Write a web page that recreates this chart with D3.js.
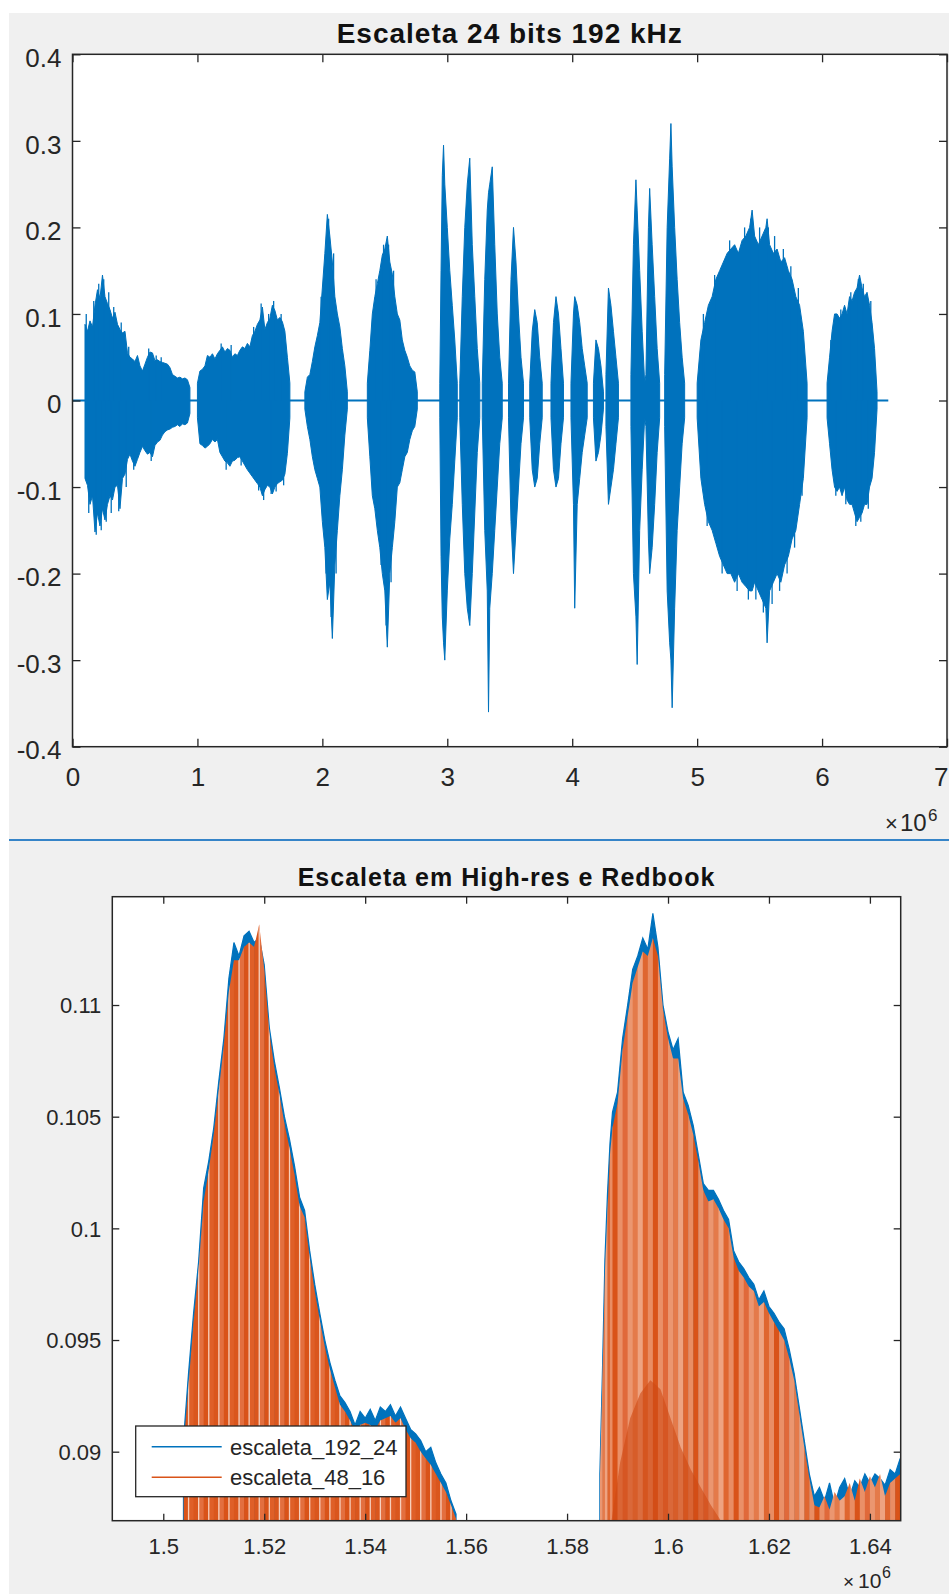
<!DOCTYPE html>
<html><head><meta charset="utf-8">
<script src="https://cdn.jsdelivr.net/npm/d3@7"></script>
<style>
html,body{margin:0;padding:0;background:#fff;}
svg{display:block;}
</style></head><body>
<svg id="fig" width="949" height="1594"></svg>
<script>
// ---------------- DATA ----------------
const topTitle = "Escaleta 24 bits 192 kHz";
const zoomTitle = "Escaleta em High-res e Redbook";
const seriesNames = ["escaleta_192_24", "escaleta_48_16"];

const topXTicks = [0, 1, 2, 3, 4, 5, 6, 7];
const topXLabels = ["0", "1", "2", "3", "4", "5", "6", "7"];
const topYTicks = [-0.4, -0.3, -0.2, -0.1, 0, 0.1, 0.2, 0.3, 0.4];
const topYLabels = ["-0.4", "-0.3", "-0.2", "-0.1", "0", "0.1", "0.2", "0.3", "0.4"];
const zoomXTicks = [1.5, 1.52, 1.54, 1.56, 1.58, 1.6, 1.62, 1.64];
const zoomXLabels = ["1.5", "1.52", "1.54", "1.56", "1.58", "1.6", "1.62", "1.64"];
const zoomYTicks = [0.09, 0.095, 0.1, 0.105, 0.11];
const zoomYLabels = ["0.09", "0.095", "0.1", "0.105", "0.11"];

// waveform envelope of escaleta_192_24 (x in 1e6 samples): [x, max, min]
const waveBaseline = [0, 6.53];
const waveA = [
 [0.10,0.088,-0.090],[0.12,0.080,-0.098],[0.14,0.092,-0.120],[0.16,0.085,-0.110],[0.18,0.110,-0.152],
 [0.20,0.128,-0.130],[0.22,0.118,-0.145],[0.24,0.145,-0.125],[0.26,0.120,-0.138],[0.28,0.112,-0.120],
 [0.30,0.105,-0.110],[0.32,0.095,-0.115],[0.34,0.102,-0.100],[0.36,0.088,-0.098],[0.38,0.082,-0.125],
 [0.40,0.078,-0.090],[0.42,0.080,-0.085],[0.44,0.055,-0.068],[0.46,0.050,-0.062],[0.48,0.048,-0.070],
 [0.50,0.045,-0.076],[0.52,0.052,-0.068],[0.54,0.040,-0.060],[0.56,0.034,-0.053],[0.58,0.042,-0.058],
 [0.60,0.050,-0.062],[0.62,0.056,-0.060],[0.64,0.055,-0.065],[0.66,0.046,-0.052],[0.68,0.047,-0.048],
 [0.70,0.045,-0.046],[0.72,0.044,-0.040],[0.74,0.043,-0.036],[0.76,0.042,-0.034],[0.78,0.038,-0.033],
 [0.80,0.030,-0.031],[0.82,0.028,-0.030],[0.84,0.026,-0.028],[0.86,0.027,-0.030],[0.88,0.025,-0.027],
 [0.90,0.026,-0.028],[0.92,0.024,-0.026],[0.94,0.015,-0.015]
];
const waveB = [
 [1.00,0.020,-0.020],[1.02,0.034,-0.050],[1.04,0.036,-0.052],[1.06,0.040,-0.055],[1.08,0.052,-0.053],
 [1.10,0.050,-0.050],[1.12,0.054,-0.045],[1.14,0.048,-0.048],[1.16,0.054,-0.045],[1.18,0.058,-0.060],
 [1.20,0.062,-0.065],[1.22,0.056,-0.070],[1.24,0.060,-0.072],[1.26,0.058,-0.076],[1.28,0.050,-0.070],
 [1.30,0.054,-0.069],[1.32,0.052,-0.066],[1.34,0.058,-0.065],[1.36,0.062,-0.070],[1.38,0.060,-0.075],
 [1.40,0.066,-0.080],[1.42,0.062,-0.084],[1.44,0.075,-0.088],[1.46,0.080,-0.092],[1.48,0.088,-0.096],
 [1.50,0.093,-0.100],[1.52,0.108,-0.110],[1.54,0.082,-0.103],[1.56,0.090,-0.098],[1.58,0.095,-0.100],
 [1.60,0.110,-0.108],[1.62,0.104,-0.100],[1.64,0.093,-0.096],[1.66,0.096,-0.094],[1.68,0.091,-0.092],
 [1.70,0.080,-0.085],[1.72,0.050,-0.061],[1.74,0.020,-0.020]
];
const waveC = [
 [1.86,0.010,-0.010],[1.88,0.027,-0.030],[1.90,0.030,-0.045],[1.92,0.045,-0.065],[1.94,0.062,-0.080],
 [1.96,0.075,-0.090],[1.98,0.090,-0.100],[2.00,0.130,-0.140],[2.02,0.170,-0.170],[2.04,0.215,-0.230],
 [2.06,0.190,-0.210],[2.08,0.160,-0.275],[2.10,0.120,-0.190],[2.12,0.100,-0.150],[2.14,0.085,-0.110],
 [2.16,0.060,-0.080],[2.18,0.040,-0.040],[2.20,0.010,-0.010]
];
const waveD = [
 [2.36,0.020,-0.020],[2.38,0.058,-0.065],[2.40,0.100,-0.110],[2.42,0.120,-0.125],[2.44,0.135,-0.150],
 [2.46,0.150,-0.170],[2.48,0.168,-0.200],[2.50,0.175,-0.220],[2.52,0.190,-0.285],[2.54,0.160,-0.200],
 [2.56,0.146,-0.170],[2.58,0.120,-0.140],[2.60,0.100,-0.100],[2.62,0.093,-0.095],[2.64,0.070,-0.080],
 [2.66,0.058,-0.065],[2.68,0.050,-0.060],[2.70,0.040,-0.045],[2.72,0.035,-0.035],[2.74,0.033,-0.030],
 [2.76,0.010,-0.010]
];
const waveBursts = [
 [[2.94,0.02,-0.02],[2.95,0.15,-0.18],[2.96,0.26,-0.25],[2.97,0.295,-0.28],[2.98,0.25,-0.30],[3.00,0.20,-0.22],[3.02,0.15,-0.16],[3.04,0.11,-0.12],[3.06,0.07,-0.07],[3.08,0.02,-0.02]],
 [[3.10,0.02,-0.02],[3.12,0.12,-0.12],[3.14,0.20,-0.20],[3.16,0.25,-0.24],[3.18,0.28,-0.26],[3.20,0.18,-0.20],[3.22,0.12,-0.13],[3.24,0.06,-0.06],[3.26,0.02,-0.02]],
 [[3.28,0.02,-0.02],[3.30,0.14,-0.15],[3.32,0.22,-0.22],[3.33,0.24,-0.36],[3.34,0.25,-0.24],[3.36,0.27,-0.20],[3.38,0.18,-0.15],[3.40,0.10,-0.10],[3.42,0.05,-0.05],[3.44,0.02,-0.02]],
 [[3.49,0.02,-0.02],[3.51,0.14,-0.14],[3.53,0.20,-0.20],[3.55,0.16,-0.15],[3.57,0.10,-0.10],[3.59,0.05,-0.05],[3.61,0.02,-0.02]],
 [[3.66,0.02,-0.02],[3.68,0.08,-0.08],[3.70,0.105,-0.10],[3.72,0.09,-0.09],[3.74,0.05,-0.05],[3.76,0.02,-0.02]],
 [[3.83,0.02,-0.02],[3.85,0.09,-0.08],[3.87,0.12,-0.10],[3.89,0.10,-0.09],[3.91,0.06,-0.05],[3.93,0.02,-0.02]],
 [[3.99,0.02,-0.02],[4.01,0.10,-0.12],[4.02,0.12,-0.24],[4.04,0.11,-0.12],[4.06,0.09,-0.09],[4.08,0.06,-0.06],[4.10,0.04,-0.04],[4.12,0.02,-0.02]],
 [[4.17,0.02,-0.02],[4.19,0.07,-0.07],[4.21,0.06,-0.06],[4.23,0.04,-0.04],[4.25,0.01,-0.01]],
 [[4.27,0.03,-0.03],[4.29,0.13,-0.12],[4.31,0.11,-0.10],[4.33,0.08,-0.08],[4.35,0.05,-0.05],[4.37,0.02,-0.02]],
 [[4.47,0.03,-0.03],[4.49,0.18,-0.20],[4.51,0.255,-0.25],[4.52,0.22,-0.305],[4.54,0.15,-0.15],[4.56,0.08,-0.08],[4.58,0.02,-0.02],
  [4.59,0.03,-0.03],[4.61,0.20,-0.16],[4.62,0.245,-0.20],[4.64,0.18,-0.17],[4.66,0.12,-0.12],[4.68,0.06,-0.06],[4.70,0.02,-0.02]],
 [[4.74,0.03,-0.03],[4.76,0.20,-0.22],[4.78,0.28,-0.28],[4.79,0.32,-0.30],[4.80,0.27,-0.355],[4.82,0.20,-0.24],[4.84,0.14,-0.15],[4.86,0.09,-0.10],[4.88,0.05,-0.05],[4.90,0.02,-0.02]]
];
const waveF = [
 [5.00,0.02,-0.02],[5.03,0.07,-0.09],[5.06,0.09,-0.12],[5.09,0.11,-0.14],[5.12,0.12,-0.15],
 [5.15,0.14,-0.165],[5.18,0.15,-0.18],[5.21,0.16,-0.19],[5.24,0.17,-0.20],[5.27,0.175,-0.20],
 [5.30,0.18,-0.21],[5.33,0.17,-0.20],[5.36,0.185,-0.21],[5.39,0.19,-0.215],[5.42,0.20,-0.22],
 [5.44,0.22,-0.22],[5.46,0.19,-0.21],[5.49,0.18,-0.22],[5.52,0.19,-0.23],[5.55,0.20,-0.24],
 [5.56,0.21,-0.28],[5.58,0.18,-0.22],[5.61,0.17,-0.21],[5.64,0.175,-0.20],[5.67,0.16,-0.21],
 [5.70,0.165,-0.19],[5.73,0.15,-0.18],[5.76,0.14,-0.16],[5.79,0.12,-0.15],[5.82,0.11,-0.12],
 [5.85,0.08,-0.09],[5.88,0.02,-0.02]
];
const waveG = [
 [6.04,0.02,-0.02],[6.06,0.05,-0.05],[6.08,0.08,-0.08],[6.10,0.10,-0.10],[6.12,0.10,-0.105],
 [6.14,0.095,-0.10],[6.16,0.10,-0.11],[6.18,0.11,-0.10],[6.20,0.10,-0.115],[6.22,0.12,-0.12],
 [6.24,0.115,-0.12],[6.26,0.125,-0.13],[6.28,0.13,-0.14],[6.30,0.145,-0.135],[6.32,0.13,-0.13],
 [6.34,0.12,-0.12],[6.36,0.125,-0.12],[6.38,0.11,-0.10],[6.40,0.09,-0.09],[6.42,0.06,-0.06],
 [6.44,0.01,-0.01]
];
// isolated needle peaks on the envelope edges: [x, peak]
const waveSpikes = [
 [0.11,0.100],[0.13,-0.130],[0.17,0.115],[0.19,-0.155],[0.21,0.135],[0.23,-0.150],[0.25,0.140],[0.27,-0.140],
 [0.29,0.125],[0.31,-0.130],[0.33,0.108],[0.37,-0.128],[0.39,0.090],[0.43,-0.100],[0.45,0.062],[0.49,-0.080],
 [0.61,0.060],[0.63,-0.070],[0.67,0.052],[0.71,0.050],
 [1.19,0.066],[1.23,-0.080],[1.27,0.064],[1.35,-0.075],[1.45,0.085],[1.49,-0.104],[1.51,0.112],[1.53,-0.115],
 [1.57,0.100],[1.59,-0.108],[1.61,0.115],[1.63,-0.105],[1.67,0.100],[1.69,-0.098],
 [1.99,0.120],[2.03,-0.200],[2.05,0.210],[2.07,-0.250],[2.09,0.170],[2.11,-0.200],
 [2.43,0.140],[2.47,-0.190],[2.49,0.180],[2.51,-0.260],[2.53,0.180],[2.55,-0.210],[2.57,0.150],
 [5.05,0.100],[5.08,-0.145],[5.14,0.145],[5.20,-0.200],[5.26,0.185],[5.32,-0.220],[5.38,0.200],[5.41,-0.230],
 [5.43,0.210],[5.47,-0.230],[5.50,0.200],[5.53,-0.245],[5.57,0.200],[5.60,-0.235],[5.62,0.190],[5.66,-0.220],
 [5.69,0.175],[5.72,-0.200],[5.75,0.155],[5.78,-0.170],[5.81,0.130],[5.84,-0.110],
 [6.07,0.070],[6.11,-0.110],[6.15,0.105],[6.19,-0.120],[6.23,0.125],[6.27,-0.145],[6.29,0.140],[6.31,-0.140],
 [6.33,0.135],[6.37,-0.125],[6.39,0.115]
];

// zoomed view: peak values per 1000 samples, [x (1e6), escaleta_192_24, escaleta_48_16]
const leftHump = [
 [1.504,0.0905,0.0902],[1.505,0.0935,0.0930],[1.506,0.0962,0.0958],[1.507,0.0985,0.0982],
 [1.508,0.1018,0.1012],[1.509,0.1030,0.1026],[1.510,0.1045,0.1042],[1.511,0.1066,0.1062],
 [1.512,0.1085,0.1082],[1.513,0.1112,0.1106],[1.514,0.1128,0.1120],[1.515,0.1122,0.1120],
 [1.516,0.1131,0.1126],[1.517,0.1133,0.1128],[1.518,0.1128,0.1126],[1.519,0.1130,0.1136],
 [1.520,0.1118,0.1116],[1.521,0.1090,0.1088],[1.522,0.1075,0.1072],[1.523,0.1063,0.1060],
 [1.524,0.1050,0.1047],[1.525,0.1040,0.1036],[1.526,0.1028,0.1024],[1.527,0.1014,0.1010],
 [1.528,0.1008,0.1005],[1.529,0.0990,0.0987],[1.530,0.0975,0.0972],[1.531,0.0962,0.0959],
 [1.532,0.0950,0.0947],[1.533,0.0940,0.0937],[1.534,0.0932,0.0929],[1.535,0.0925,0.0921],
 [1.536,0.0922,0.0918],[1.537,0.0918,0.0914],[1.538,0.0912,0.0909],[1.539,0.0918,0.0912],
 [1.540,0.0915,0.0913],[1.541,0.0919,0.0912],[1.542,0.0914,0.0910],[1.543,0.0920,0.0914],
 [1.544,0.0918,0.0915],[1.545,0.0921,0.0916],[1.546,0.0916,0.0913],[1.547,0.0920,0.0915],
 [1.548,0.0915,0.0910],[1.549,0.0910,0.0906],[1.550,0.0908,0.0904],[1.551,0.0905,0.0900],
 [1.552,0.0900,0.0897],[1.553,0.0902,0.0894],[1.554,0.0895,0.0890],[1.555,0.0890,0.0886],
 [1.556,0.0886,0.0882],[1.557,0.0878,0.0876],[1.558,0.0872,0.0870]
];
const rightHump = [
 [1.5865,0.0890,0.0888],[1.5870,0.0935,0.0932],[1.5875,0.0986,0.0980],[1.5880,0.1015,0.1008],
 [1.5885,0.1038,0.1033],[1.5890,0.1052,0.1045],[1.5900,0.1061,0.1056],[1.5910,0.1085,0.1080],
 [1.5920,0.1100,0.1095],[1.5930,0.1116,0.1110],[1.5940,0.1122,0.1117],[1.5950,0.1130,0.1124],
 [1.5960,0.1125,0.1122],[1.5970,0.1141,0.1130],[1.5980,0.1126,0.1122],[1.5990,0.1100,0.1098],
 [1.6000,0.1088,0.1085],[1.6010,0.1080,0.1076],[1.6020,0.1085,0.1076],[1.6030,0.1061,0.1058],
 [1.6040,0.1055,0.1051],[1.6050,0.1046,0.1042],[1.6060,0.1033,0.1030],[1.6070,0.1020,0.1017],
 [1.6080,0.1017,0.1012],[1.6090,0.1017,0.1013],[1.6100,0.1013,0.1009],[1.6110,0.1008,0.1004],
 [1.6120,0.1004,0.1000],[1.6130,0.0990,0.0987],[1.6140,0.0985,0.0981],[1.6150,0.0982,0.0978],
 [1.6160,0.0978,0.0974],[1.6170,0.0975,0.0972],[1.6180,0.0968,0.0965],[1.6190,0.0972,0.0967],
 [1.6200,0.0965,0.0962],[1.6210,0.0962,0.0958],[1.6220,0.0958,0.0954],[1.6230,0.0955,0.0950],
 [1.6240,0.0946,0.0942],[1.6250,0.0935,0.0932],[1.6260,0.0920,0.0917],[1.6270,0.0905,0.0902],
 [1.6280,0.0890,0.0888],[1.6290,0.0880,0.0876],[1.6300,0.0884,0.0875],[1.6310,0.0878,0.0880],
 [1.6320,0.0886,0.0874],[1.6330,0.0876,0.0882],[1.6340,0.0884,0.0878],[1.6350,0.0888,0.0880],
 [1.6360,0.0880,0.0886],[1.6370,0.0887,0.0878],[1.6380,0.0884,0.0888],[1.6390,0.0890,0.0882],
 [1.6400,0.0886,0.0889],[1.6410,0.0890,0.0884],[1.6420,0.0888,0.0890],[1.6430,0.0885,0.0880],
 [1.6440,0.0892,0.0886],[1.6450,0.0890,0.0888],[1.6460,0.0897,0.0890]
];
// denser (darker) core of escaleta_48_16 inside the right hump: [x, top]
const rightCore = [
 [1.5888,0.0869],[1.5905,0.0895],[1.5925,0.0915],[1.5945,0.0926],[1.5965,0.0932],[1.5985,0.0928],
 [1.6005,0.0915],[1.6025,0.0902],[1.6045,0.0892],[1.6065,0.0884],[1.6085,0.0876],[1.6105,0.0869]
];

// ---------------- DRAWING ----------------
const BLUE = "#0072BD", ORANGE = "#D95319", AXC = "#262626";
const FONT = "'Liberation Sans', Arial, Helvetica, sans-serif";
const svg = d3.select("#fig");

svg.append("rect").attr("x", 9).attr("y", 13).attr("width", 940).attr("height", 1581).attr("fill", "#f0f0f0");
svg.append("rect").attr("x", 9).attr("y", 839).attr("width", 940).attr("height", 2).attr("fill", "#3584c8");

function styleAxis(g, fs, dy) {
  g.select(".domain").remove();
  g.attr("font-family", FONT).attr("font-size", fs);
  g.selectAll(".tick line").attr("stroke", AXC).attr("stroke-width", 1.3);
  g.selectAll(".tick text").attr("fill", AXC).attr("font-size", fs).attr("font-family", FONT);
  if (dy) g.selectAll(".tick text").attr("dy", dy);
}

// ---- top panel ----
const T = { l: 72.5, r: 947, t: 54.3, b: 746.7 };
const tx = d3.scaleLinear().domain([0, 7]).range([T.l, T.r]);
const ty = d3.scaleLinear().domain([-0.4, 0.4]).range([T.b, T.t]);
const gTop = svg.append("g");
gTop.append("rect").attr("x", T.l).attr("y", T.t).attr("width", T.r - T.l).attr("height", T.b - T.t).attr("fill", "#fff");

gTop.append("line")
  .attr("x1", tx(waveBaseline[0])).attr("x2", tx(waveBaseline[1]))
  .attr("y1", ty(0)).attr("y2", ty(0))
  .attr("stroke", BLUE).attr("stroke-width", 2);

const waveArea = d3.area().x(d => tx(d[0])).y0(d => ty(d[2])).y1(d => ty(d[1]));
[waveA, waveB, waveC, waveD, ...waveBursts, waveF, waveG].forEach(seg => {
  gTop.append("path").attr("d", waveArea(seg))
    .attr("fill", BLUE).attr("stroke", BLUE).attr("stroke-width", 1).attr("stroke-linejoin", "miter");
});
gTop.selectAll("line.spike").data(waveSpikes).join("line").attr("class", "spike")
  .attr("x1", d => tx(d[0])).attr("x2", d => tx(d[0]))
  .attr("y1", ty(0)).attr("y2", d => ty(d[1]))
  .attr("stroke", BLUE).attr("stroke-width", 1.3);

gTop.append("g").attr("transform", `translate(0,${T.b})`)
  .call(d3.axisBottom(tx).tickValues(topXTicks).tickFormat((d, i) => topXLabels[i]).tickSize(-8).tickSizeOuter(0).tickPadding(21))
  .call(g => styleAxis(g, 26))
  .call(g => g.selectAll(".tick text").filter(d => d === 7).attr("text-anchor", "end").attr("x", 1));
gTop.append("g").attr("transform", `translate(0,${T.t})`)
  .call(d3.axisTop(tx).tickValues(topXTicks).tickFormat("").tickSize(-8).tickSizeOuter(0))
  .call(g => styleAxis(g, 26));
gTop.append("g").attr("transform", `translate(${T.l},0)`)
  .call(d3.axisLeft(ty).tickValues(topYTicks).tickFormat((d, i) => topYLabels[i]).tickSize(-8).tickSizeOuter(0).tickPadding(11))
  .call(g => styleAxis(g, 26, "0.47em"));
gTop.append("g").attr("transform", `translate(${T.r},0)`)
  .call(d3.axisRight(ty).tickValues(topYTicks).tickFormat("").tickSize(-8).tickSizeOuter(0))
  .call(g => styleAxis(g, 26));
gTop.append("rect").attr("x", T.l).attr("y", T.t).attr("width", T.r - T.l).attr("height", T.b - T.t)
  .attr("fill", "none").attr("stroke", AXC).attr("stroke-width", 1.5);

svg.append("text").attr("x", (T.l + T.r) / 2).attr("y", 43).attr("text-anchor", "middle")
  .attr("font-family", FONT).attr("font-weight", "bold").attr("font-size", 28).attr("letter-spacing", 1)
  .attr("fill", "#111").text(topTitle);
svg.append("text").attr("x", 885).attr("y", 831).attr("font-family", FONT).attr("font-size", 22).attr("fill", AXC).text("×");
svg.append("text").attr("x", 900).attr("y", 831).attr("font-family", FONT).attr("font-size", 24).attr("fill", AXC).text("10");
svg.append("text").attr("x", 928).attr("y", 821).attr("font-family", FONT).attr("font-size", 17).attr("fill", AXC).text("6");

// ---- bottom (zoomed) panel ----
const Z = { l: 112.3, r: 900.7, t: 896.7, b: 1520.7 };
const zx = d3.scaleLinear().domain([1.4899, 1.6461]).range([Z.l, Z.r]);
const zy = d3.scaleLinear().domain([0.08691, 0.11485]).range([Z.b, Z.t]);
const gZ = svg.append("g");
gZ.append("rect").attr("x", Z.l).attr("y", Z.t).attr("width", Z.r - Z.l).attr("height", Z.b - Z.t).attr("fill", "#fff");
const defs = svg.append("defs");
defs.append("clipPath").attr("id", "zclip").append("rect")
  .attr("x", Z.l).attr("y", Z.t).attr("width", Z.r - Z.l).attr("height", Z.b - Z.t);
const gData = gZ.append("g").attr("clip-path", "url(#zclip)");

const leftShades = ["#d95319", "#df5f28", "#da561d", "#e36f3f"];
const rightShades = ["#eb9670", "#e47a4a", "#eea381", "#df6630", "#e98d64", "#d95319", "#ea9068", "#e0693a"];

function drawHump(rows, shades, gapEvery, id) {
  const blueArea = d3.area().x(d => zx(d[0])).y0(Z.b + 2).y1(d => zy(d[1]));
  const orangeArea = d3.area().x(d => zx(d[0])).y0(Z.b + 2).y1(d => zy(d[2]));
  gData.append("path").attr("d", blueArea(rows)).attr("fill", BLUE)
    .attr("stroke", BLUE).attr("stroke-width", 1.2);
  defs.append("clipPath").attr("id", id).append("path").attr("d", orangeArea(rows));
  const gO = gData.append("g").attr("clip-path", `url(#${id})`);
  rows.forEach((r, i) => {
    const x0 = zx(r[0]);
    const x1 = i < rows.length - 1 ? zx(rows[i + 1][0]) : x0 + 1;
    gO.append("rect").attr("x", x0).attr("y", Z.t).attr("width", x1 - x0 + 0.5)
      .attr("height", Z.b - Z.t + 2).attr("fill", shades[i % shades.length]);
    if (gapEvery && i % gapEvery === 1) {
      gO.append("rect").attr("x", x0 - 0.6).attr("y", Z.t).attr("width", 1.3)
        .attr("height", Z.b - Z.t + 2).attr("fill", "#fbe3d6").attr("opacity", 0.85);
    }
  });
}
drawHump(leftHump, leftShades, 2, "oclipL");
drawHump(rightHump, rightShades, 0, "oclipR");

gData.append("path")
  .attr("d", d3.area().x(d => zx(d[0])).y0(Z.b + 2).y1(d => zy(d[1]))(rightCore))
  .attr("fill", "#cf4a14").attr("opacity", 0.6);

gZ.append("g").attr("transform", `translate(0,${Z.b})`)
  .call(d3.axisBottom(zx).tickValues(zoomXTicks).tickFormat((d, i) => zoomXLabels[i]).tickSize(-7).tickSizeOuter(0).tickPadding(17.5))
  .call(g => styleAxis(g, 22));
gZ.append("g").attr("transform", `translate(0,${Z.t})`)
  .call(d3.axisTop(zx).tickValues(zoomXTicks).tickFormat("").tickSize(-7).tickSizeOuter(0))
  .call(g => styleAxis(g, 22));
gZ.append("g").attr("transform", `translate(${Z.l},0)`)
  .call(d3.axisLeft(zy).tickValues(zoomYTicks).tickFormat((d, i) => zoomYLabels[i]).tickSize(-7).tickSizeOuter(0).tickPadding(11))
  .call(g => styleAxis(g, 22, "0.36em"));
gZ.append("g").attr("transform", `translate(${Z.r},0)`)
  .call(d3.axisRight(zy).tickValues(zoomYTicks).tickFormat("").tickSize(-7).tickSizeOuter(0))
  .call(g => styleAxis(g, 22));
gZ.append("rect").attr("x", Z.l).attr("y", Z.t).attr("width", Z.r - Z.l).attr("height", Z.b - Z.t)
  .attr("fill", "none").attr("stroke", AXC).attr("stroke-width", 1.5);

svg.append("text").attr("x", (Z.l + Z.r) / 2).attr("y", 886).attr("text-anchor", "middle")
  .attr("font-family", FONT).attr("font-weight", "bold").attr("font-size", 25).attr("letter-spacing", 1)
  .attr("fill", "#111").text(zoomTitle);
svg.append("text").attr("x", 843).attr("y", 1588).attr("font-family", FONT).attr("font-size", 19).attr("fill", AXC).text("×");
svg.append("text").attr("x", 858).attr("y", 1588).attr("font-family", FONT).attr("font-size", 21).attr("fill", AXC).text("10");
svg.append("text").attr("x", 882).attr("y", 1578).attr("font-family", FONT).attr("font-size", 16).attr("fill", AXC).text("6");

// legend
const L = { x: 135.7, y: 1426, w: 270.3, h: 70.7 };
const gL = svg.append("g");
gL.append("rect").attr("x", L.x).attr("y", L.y).attr("width", L.w).attr("height", L.h)
  .attr("fill", "#fff").attr("stroke", AXC).attr("stroke-width", 1.3);
const legRows = [1446.7, 1477.3];
const legColors = [BLUE, ORANGE];
seriesNames.forEach((name, i) => {
  gL.append("line").attr("x1", 151.7).attr("x2", 221.7).attr("y1", legRows[i]).attr("y2", legRows[i])
    .attr("stroke", legColors[i]).attr("stroke-width", 1.5);
  gL.append("text").attr("x", 230).attr("y", legRows[i]).attr("dy", "0.36em")
    .attr("font-family", FONT).attr("font-size", 22).attr("fill", AXC).text(name);
});
</script>
</body></html>
